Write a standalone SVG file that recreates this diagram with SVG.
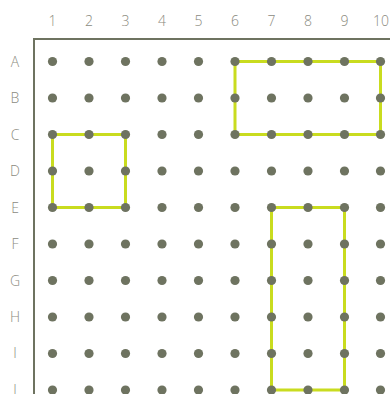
<svg xmlns="http://www.w3.org/2000/svg" width="390" height="394" viewBox="0 0 390 394">
<style>
.lbl{font-family:"Open Sans","Liberation Sans",sans-serif;font-weight:300;font-size:14px;fill:#8a8a7e;text-anchor:middle}
.dot{fill:#6e7360}
.frame{stroke:#6e7360;stroke-width:2;fill:none}
.path{stroke:#c9dc1f;stroke-width:3;fill:none;stroke-linejoin:miter}
</style>
<rect width="390" height="394" fill="#ffffff"/>
<g id="frame"><path class="frame" d="M34,394 V39 H390"/></g>
<g id="col-labels">
<text class="lbl" x="52.5" y="26">1</text>
<text class="lbl" x="89" y="26">2</text>
<text class="lbl" x="125.5" y="26">3</text>
<text class="lbl" x="162" y="26">4</text>
<text class="lbl" x="198.5" y="26">5</text>
<text class="lbl" x="235" y="26">6</text>
<text class="lbl" x="271.5" y="26">7</text>
<text class="lbl" x="308" y="26">8</text>
<text class="lbl" x="344.5" y="26">9</text>
<text class="lbl" x="381" y="26">10</text>
</g>
<g id="row-labels">
<text class="lbl" x="15" y="66.5">A</text>
<text class="lbl" x="15" y="103">B</text>
<text class="lbl" x="15" y="139.5">C</text>
<text class="lbl" x="15" y="176">D</text>
<text class="lbl" x="15" y="212.5">E</text>
<text class="lbl" x="15" y="249">F</text>
<text class="lbl" x="15" y="285.5">G</text>
<text class="lbl" x="15" y="322">H</text>
<text class="lbl" x="15" y="358">I</text>
<text class="lbl" x="15" y="394.5">J</text>
</g>
<g id="connectors">
<polygon class="path" points="235,61.5 380.5,61.5 380.5,134.5 235,134.5"/>
<polygon class="path" points="52.5,134.5 125.5,134.5 125.5,207.5 52.5,207.5"/>
<polygon class="path" points="271.5,207.5 344.5,207.5 344.5,390 271.5,390"/>
</g>
<g id="dots">
<defs><circle id="d" r="4.6" class="dot"/>
<g id="row"><use href="#d" x="52.5"/><use href="#d" x="89"/><use href="#d" x="125.5"/><use href="#d" x="162"/><use href="#d" x="198.5"/><use href="#d" x="235"/><use href="#d" x="271.5"/><use href="#d" x="308"/><use href="#d" x="344.5"/><use href="#d" x="380.5"/></g></defs>
<use id="row-A" href="#row" y="61.5"/>
<use id="row-B" href="#row" y="98"/>
<use id="row-C" href="#row" y="134.5"/>
<use id="row-D" href="#row" y="171"/>
<use id="row-E" href="#row" y="207.5"/>
<use id="row-F" href="#row" y="244"/>
<use id="row-G" href="#row" y="280.5"/>
<use id="row-H" href="#row" y="317"/>
<use id="row-I" href="#row" y="353.5"/>
<use id="row-J" href="#row" y="390"/>
</g>
</svg>
